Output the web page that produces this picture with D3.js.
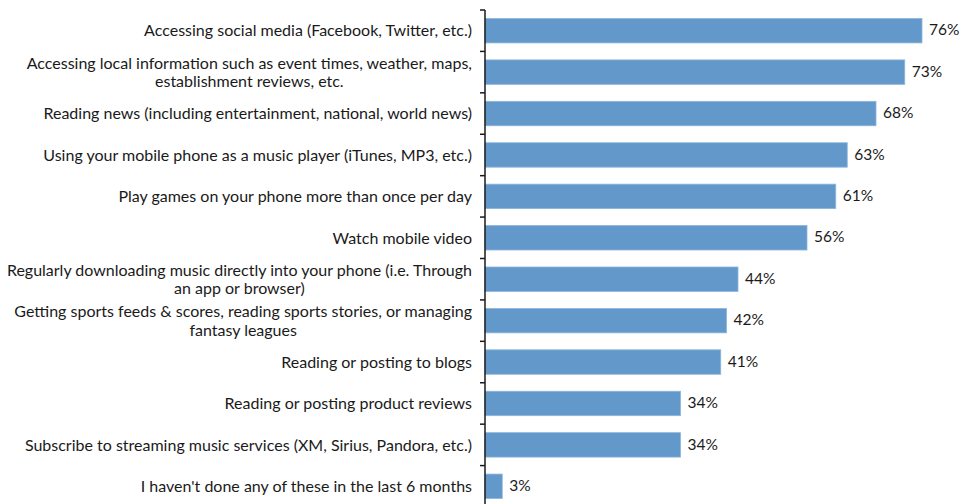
<!DOCTYPE html>
<html>
<head>
<meta charset="utf-8">
<script src="https://cdn.jsdelivr.net/npm/d3@7/dist/d3.min.js"></script>
<style>
  html, body { margin: 0; padding: 0; background: #fff; }
  svg { display: block; }
  text { font-family: Lato, "Open Sans", sans-serif; fill: #1a1a1a; }
</style>
</head>
<body>
<svg id="chart" width="963" height="504"></svg>
<script>
// Mobile activities, share of respondents (%)
const categories = [
  ["Accessing social media (Facebook, Twitter, etc.)"],
  ["Accessing local information such as event times, weather, maps,", "establishment reviews, etc."],
  ["Reading news (including entertainment, national, world news)"],
  ["Using your mobile phone as a music player (iTunes, MP3, etc.)"],
  ["Play games on your phone more than once per day"],
  ["Watch mobile video"],
  ["Regularly downloading music directly into your phone (i.e. Through", "an app or browser)"],
  ["Getting sports feeds & scores, reading sports stories, or managing", "fantasy leagues"],
  ["Reading or posting to blogs"],
  ["Reading or posting product reviews"],
  ["Subscribe to streaming music services (XM, Sirius, Pandora, etc.)"],
  ["I haven't done any of these in the last 6 months"]
];
const values = [76, 73, 68, 63, 61, 56, 44, 42, 41, 34, 34, 3];

const svg = d3.select("#chart");
const axisX = 485;
const labelRight = 472;
const fontSize = 16;
const lineH = 18.5;

const keys = categories.map((c, i) => i);
const y = d3.scaleBand()
  .domain(keys)
  .range([10, 507])
  .paddingInner(0.41)
  .paddingOuter(0.205);

const x = d3.scaleLinear()
  .domain([0, 100])
  .range([axisX, axisX + 575]);

// bars
svg.append("g").selectAll("rect")
  .data(values)
  .join("rect")
  .attr("x", x(0))
  .attr("y", (d, i) => y(i))
  .attr("width", d => x(d) - x(0))
  .attr("height", y.bandwidth())
  .attr("fill", "#6298ca")
  .attr("stroke", "#8db5dc")
  .attr("stroke-width", 0.8);

// value labels
svg.append("g").selectAll("text")
  .data(values)
  .join("text")
  .attr("x", d => x(d) + 7)
  .attr("y", (d, i) => y(i) + y.bandwidth() / 2)
  .attr("dy", "0.3em")
  .attr("font-size", 15.5)
  .text(d => d + "%");

// category labels: right-aligned block, lines centred within the block
const lg = svg.append("g");
categories.forEach((lines, i) => {
  const cy = y(i) + y.bandwidth() / 2;
  const g = lg.append("g");
  const texts = lines.map((line, j) =>
    g.append("text")
      .attr("font-size", fontSize)
      .attr("y", cy + (j - (lines.length - 1) / 2) * lineH)
      .attr("dy", "0.36em")
      .text(line));
  const widths = texts.map(t => t.node().getComputedTextLength());
  const maxW = d3.max(widths);
  const centre = labelRight - maxW / 2;
  texts.forEach(t => t.attr("x", centre).attr("text-anchor", "middle"));
});

// category axis with ticks at band boundaries
const step = y.step();
const gap = step - y.bandwidth();
const tickYs = keys.map(k => y(k) - gap / 2).concat([y(keys[keys.length - 1]) + y.bandwidth() + gap / 2]);
const ax = svg.append("g").attr("stroke", "#1a1a1a").attr("stroke-width", 1.5);
ax.append("line")
  .attr("x1", axisX).attr("x2", axisX)
  .attr("y1", tickYs[0]).attr("y2", 504);
ax.selectAll("line.tick")
  .data(tickYs)
  .join("line")
  .attr("class", "tick")
  .attr("x1", axisX - 5).attr("x2", axisX)
  .attr("y1", d => d).attr("y2", d => d);
</script>
</body>
</html>
